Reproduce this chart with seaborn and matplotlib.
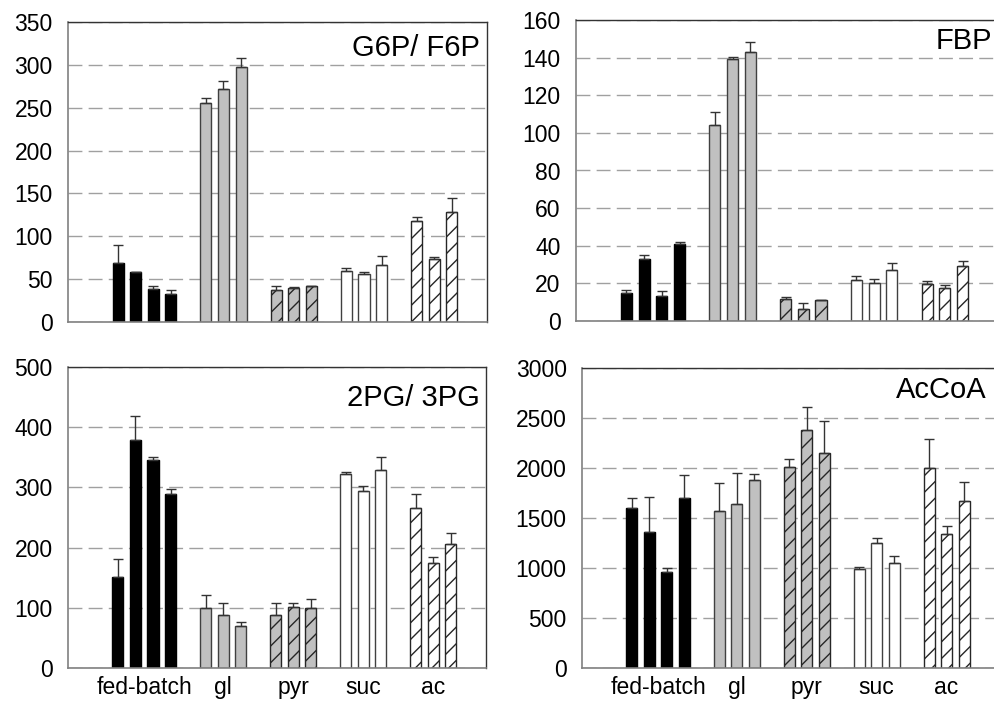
import numpy as np
import pandas as pd
import matplotlib
matplotlib.use("Agg")
import matplotlib.pyplot as plt
import seaborn as sns

### Data ###
groups = ["fed-batch", "gl", "pyr", "suc", "ac"]
group_sizes = [4, 3, 3, 3, 3]

g6p_f6p = [69, 58, 38, 33, 255, 272, 297, 37, 40, 41.5, 60, 56.5, 66, 117.5, 74, 128]
g6p_f6p_err = [21, 0.5, 4.5, 4.3, 6.6, 9.3, 11.3, 5.4, 0.5, 0.3, 2.7, 2, 10.9, 5, 2, 16.3]

fbp = [15.1, 32.8, 13.5, 41, 104.3, 139.2, 143.1, 11.7, 6.6, 11, 21.6, 20.4, 27.3, 19.5, 17.7, 29.3]
fbp_err = [1.4, 2.5, 2.6, 1.2, 6.9, 1.1, 5.4, 1.2, 2.8, 0.2, 2.3, 2, 3.7, 1.6, 1.5, 2.8]

pg23 = [151.5, 378, 345, 288.5, 99.3, 88.8, 69.4, 88.2, 102, 100, 322, 294.7, 328.5, 266.4, 174.8, 205.3]
pg23_err = [29, 41, 5, 9.4, 21.6, 19.4, 7.2, 20, 5.6, 15, 4.4, 8.3, 22.8, 22.2, 10, 18.3]

accoa = [1597, 1357, 957, 1703, 1573, 1643, 1877, 2013, 2377, 2150, 987, 1247, 1053, 1997, 1340, 1670]
accoa_err = [106, 356, 46, 230, 280, 310, 66, 80, 233, 323, 26, 56, 70, 293, 83, 187]

### Styling per group ###
fill = {"fed-batch": "#000000", "gl": "#c0c0c0", "pyr": "#c0c0c0", "suc": "#ffffff", "ac": "#ffffff"}
hatch = {"fed-batch": "", "gl": "", "pyr": "//", "suc": "", "ac": "//"}
edge = {"fed-batch": "#000000", "gl": "#404040", "pyr": "#262626", "suc": "#404040", "ac": "#262626"}

# bar positions: groups separated by one empty slot
pos, grp = [], []
p = 0
for g, n in zip(groups, group_sizes):
    for i in range(n):
        pos.append(p)
        grp.append(g)
        p += 1
    p += 1
pos = np.array(pos)
centers = [pos[np.array(grp) == g].mean() for g in groups]

sns.set_style("white")
plt.rcParams["font.family"] = ["Liberation Sans", "DejaVu Sans"]
plt.rcParams["hatch.linewidth"] = 1.0
plt.rcParams["text.color"] = "black"
plt.rcParams["xtick.color"] = "black"
plt.rcParams["ytick.color"] = "black"

fig = plt.figure(figsize=(9.95, 7.02), dpi=100)
W, H = 995, 702

def add_ax(left, right, top, bottom):
    return fig.add_axes([left / W, 1 - bottom / H, (right - left) / W, (bottom - top) / H])

panels = [
    (add_ax(68, 487, 22, 322), g6p_f6p, g6p_f6p_err, "G6P/ F6P", 350, 50, False, (-7, -12)),
    (add_ax(576, 998, 20, 321), fbp, fbp_err, "FBP", 160, 20, False, (-6, -7)),
    (add_ax(68, 486, 367, 668), pg23, pg23_err, "2PG/ 3PG", 500, 100, True, (-6, -17)),
    (add_ax(582, 999, 368, 668), accoa, accoa_err, "AcCoA", 3000, 500, True, (-12, -8)),
]

for ax, vals, errs, title, ymax, step, show_x, toff in panels:
    df = pd.DataFrame({"pos": pos, "group": grp, "value": vals})
    ax.set_axisbelow(True)
    sns.barplot(data=df, x="pos", y="value", hue="group", hue_order=groups,
                palette=fill, native_scale=True, width=0.63, errorbar=None,
                legend=False, linewidth=1.0, ax=ax)
    for cont, g in zip(ax.containers, groups):
        for bar in cont:
            bar.set_edgecolor(edge[g])
            bar.set_hatch(hatch[g])
    ax.errorbar(pos, vals, yerr=[np.zeros(len(errs)), errs], fmt="none",
                ecolor="#333333", elinewidth=1.0, capsize=3.6, capthick=1.0)

    ax.set_xlim(-2.85, 21)
    ax.set_ylim(0, ymax)
    ax.set_yticks(np.arange(0, ymax + 1, step))
    ax.yaxis.grid(True, color="#a0a0a0", linewidth=1.0, dashes=(10, 4.5))
    ax.xaxis.grid(False)
    ax.set_xlabel("")
    ax.set_ylabel("")
    if show_x:
        ax.set_xticks(centers)
        ax.set_xticklabels(groups)
    else:
        ax.set_xticks([])
    ax.tick_params(axis="y", length=0, pad=11, labelsize=16.5)
    ax.tick_params(axis="x", length=0, pad=6, labelsize=16.5)
    for s in ["left", "bottom"]:
        ax.spines[s].set_color("#808080")
        ax.spines[s].set_linewidth(1.2)
    for s in ["top", "right"]:
        ax.spines[s].set_color("#333333")
        ax.spines[s].set_linewidth(1.0)
    ax.annotate(title, xy=(1, 1), xycoords="axes fraction", xytext=toff,
                textcoords="offset pixels", ha="right", va="top", fontsize=21)

fig.savefig("out.png", dpi=100)
